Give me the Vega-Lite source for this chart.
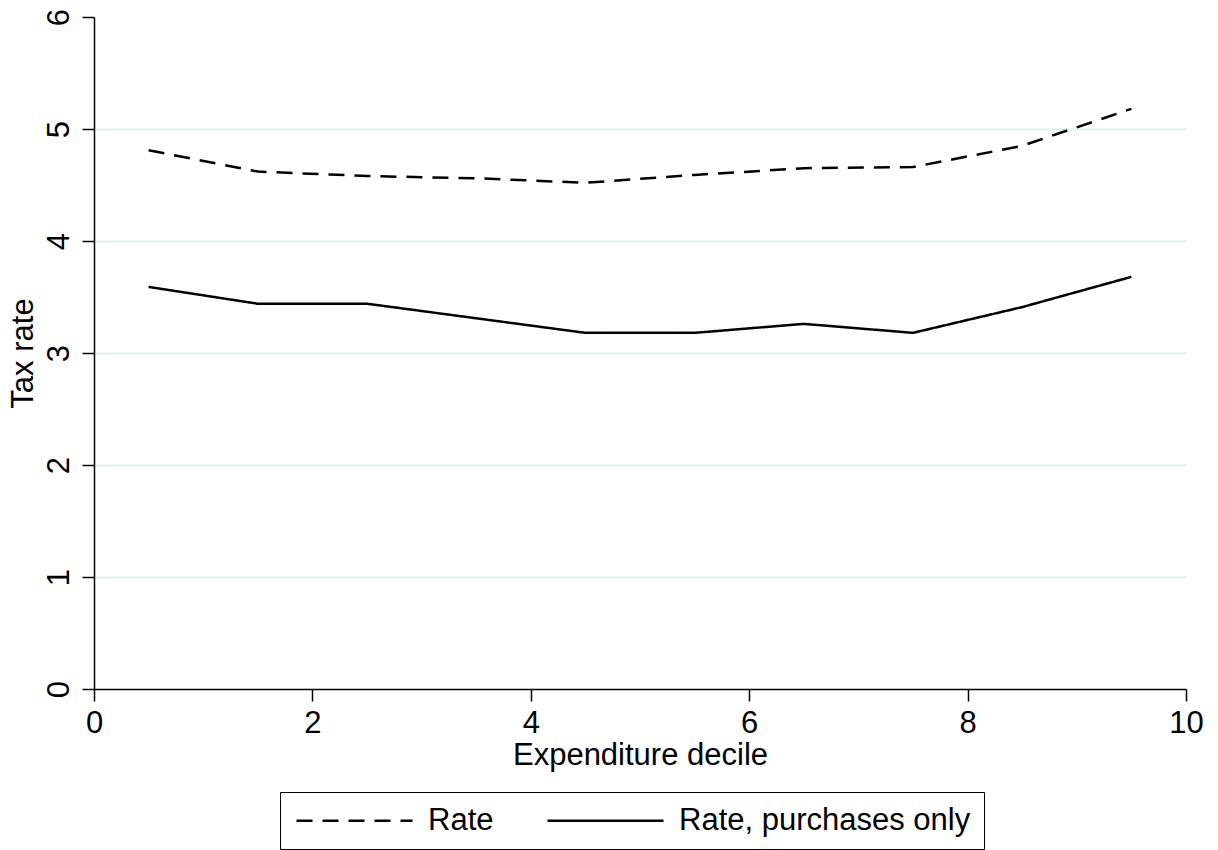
{
  "$schema": "https://vega.github.io/schema/vega-lite/v6.json",
  "autosize": "none",
  "width": 1092,
  "height": 672,
  "padding": {"left": 94, "top": 17, "right": 32, "bottom": 161},
  "background": "white",
  "config": {
    "view": {"stroke": null},
    "font": "Liberation Sans",
    "axis": {"labelFont": "Liberation Sans", "titleFont": "Liberation Sans", "labelColor": "black", "titleColor": "black", "titleFontWeight": "normal", "domainColor": "black", "tickColor": "black", "domainWidth": 1.5, "tickWidth": 1.5}
  },
  "data": {
    "values": [
      {"decile": 0.5, "series": "Rate", "rate": 4.81},
      {"decile": 1.5, "series": "Rate", "rate": 4.62},
      {"decile": 2.5, "series": "Rate", "rate": 4.58},
      {"decile": 3.5, "series": "Rate", "rate": 4.56},
      {"decile": 4.5, "series": "Rate", "rate": 4.52},
      {"decile": 5.5, "series": "Rate", "rate": 4.59},
      {"decile": 6.5, "series": "Rate", "rate": 4.65},
      {"decile": 7.5, "series": "Rate", "rate": 4.66},
      {"decile": 8.5, "series": "Rate", "rate": 4.85},
      {"decile": 9.5, "series": "Rate", "rate": 5.18},
      {"decile": 0.5, "series": "Rate, purchases only", "rate": 3.59},
      {"decile": 1.5, "series": "Rate, purchases only", "rate": 3.44},
      {"decile": 2.5, "series": "Rate, purchases only", "rate": 3.44},
      {"decile": 3.5, "series": "Rate, purchases only", "rate": 3.31},
      {"decile": 4.5, "series": "Rate, purchases only", "rate": 3.18},
      {"decile": 5.5, "series": "Rate, purchases only", "rate": 3.18},
      {"decile": 6.5, "series": "Rate, purchases only", "rate": 3.26},
      {"decile": 7.5, "series": "Rate, purchases only", "rate": 3.18},
      {"decile": 8.5, "series": "Rate, purchases only", "rate": 3.41},
      {"decile": 9.5, "series": "Rate, purchases only", "rate": 3.68}
    ]
  },
  "mark": {"type": "line", "color": "black", "strokeWidth": 2.5},
  "encoding": {
    "x": {
      "field": "decile", "type": "quantitative",
      "scale": {"domain": [0, 10], "nice": false, "zero": false},
      "axis": {"title": "Expenditure decile", "values": [0, 2, 4, 6, 8, 10], "grid": false, "tickSize": 12, "labelPadding": 7, "labelFontSize": 31, "titleFontSize": 31, "titlePadding": 2, "labelFlush": false}
    },
    "y": {
      "field": "rate", "type": "quantitative",
      "scale": {"domain": [0, 6], "nice": false},
      "axis": {"title": "Tax rate", "values": [0, 1, 2, 3, 4, 5, 6], "grid": true, "gridColor": {"condition": {"test": "datum.value === 6 || datum.value === 0", "value": "transparent"}, "value": "#e4eef0"}, "gridWidth": 2, "tickSize": 12, "labelAngle": -90, "labelAlign": "center", "labelBaseline": "bottom", "labelPadding": 7, "labelFontSize": 31, "titleFontSize": 31, "titlePadding": 4, "labelFlush": false}
    },
    "strokeDash": {
      "field": "series", "type": "nominal",
      "scale": {"domain": ["Rate", "Rate, purchases only"], "range": [[16, 10], [1, 0]]},
      "legend": {
        "title": null, "orient": "none", "legendX": 186, "legendY": 775,
        "direction": "horizontal", "columns": 2,
        "symbolType": "M-5,0H5", "symbolSize": 538, "symbolOffset": 46, "symbolStrokeWidth": 2.5, "symbolStrokeColor": "black",
        "labelFontSize": 31, "labelColor": "black", "labelFont": "Liberation Sans", "labelOffset": 58,
        "columnPadding": 48, "padding": 13, "strokeColor": "black", "fillColor": "white", "labelLimit": 500
      }
    }
  }
}
